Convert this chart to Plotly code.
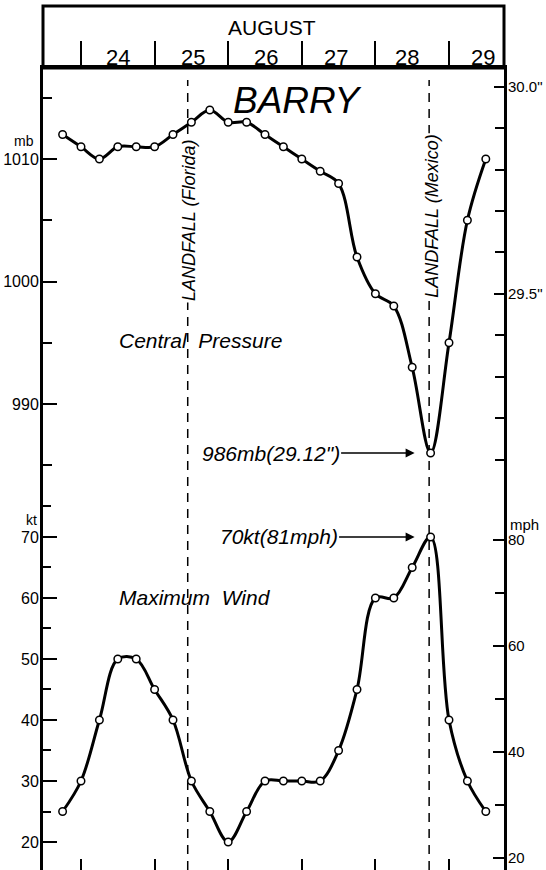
import plotly.graph_objects as go

# ---------------- data ----------------
times = [23.75, 24.0, 24.25, 24.5, 24.75, 25.0, 25.25, 25.5, 25.75, 26.0, 26.25, 26.5,
         26.75, 27.0, 27.25, 27.5, 27.75, 28.0, 28.25, 28.5, 28.75, 29.0, 29.25, 29.5]
pressure_mb = [1012, 1011, 1010, 1011, 1011, 1011, 1012, 1013, 1014, 1013, 1013, 1012,
               1011, 1010, 1009, 1008, 1002, 999, 998, 993, 986, 995, 1005, 1010]
wind_kt = [25, 30, 40, 50, 50, 45, 40, 30, 25, 20, 25, 30,
           30, 30, 30, 35, 45, 60, 60, 65, 70, 40, 30, 25]
days = [24, 25, 26, 27, 28, 29]
day_labels = ["24", "25", "26", "27", "28", "29"]
day_label_pos = [24.5, 25.52, 26.51, 27.47, 28.43, 29.46]
landfall_times = [25.45, 28.73]
landfall_labels = ["LANDFALL (Florida)", "LANDFALL (Mexico)"]

MB_PER_INHG = 33.8639
MPH_PER_KT = 1.15078

pressure_in = [p / MB_PER_INHG for p in pressure_mb]
wind_mph = [w * MPH_PER_KT for w in wind_kt]

# ---------------- geometry ----------------
W, H = 546, 870
ML, MR, MT, MB = 43, 42, 68, 0
PH = H - MT - MB
PW = W - ML - MR
split_px = 485
d = (H - MB - split_px) / PH

x_range = [23.4837, 29.7473]
p_range = [983.39, 1017.43]
kt_range = [15.41, 78.52]
in_range = [p / MB_PER_INHG for p in p_range]
mph_range = [k * MPH_PER_KT for k in kt_range]

FONT = "Liberation Sans, Arial, sans-serif"

fig = go.Figure()

line_style = dict(color="black", width=3, shape="spline", smoothing=1.0)
marker_style = dict(symbol="circle", size=7.5, color="white",
                    line=dict(color="black", width=1.5))

fig.add_trace(go.Scatter(x=times, y=pressure_mb, mode="lines+markers",
                         line=line_style, marker=marker_style,
                         xaxis="x", yaxis="y", hoverinfo="skip", showlegend=False))
fig.add_trace(go.Scatter(x=times, y=wind_kt, mode="lines+markers",
                         line=line_style, marker=marker_style,
                         xaxis="x", yaxis="y3", hoverinfo="skip", showlegend=False))
# secondary-unit axes (invisible traces keep them alive)
fig.add_trace(go.Scatter(x=times, y=pressure_in, mode="lines", opacity=0,
                         xaxis="x2", yaxis="y2", hoverinfo="skip", showlegend=False))
fig.add_trace(go.Scatter(x=times, y=wind_mph, mode="lines", opacity=0,
                         xaxis="x", yaxis="y4", hoverinfo="skip", showlegend=False))

common_y = dict(showgrid=False, zeroline=False, showline=True, linecolor="black",
                linewidth=3, ticks="inside", tickcolor="black", tickwidth=2,
                automargin=False)
left_font = dict(family=FONT, size=16, color="black")
right_font = dict(family=FONT, size=15, color="black")

fig.update_layout(
    width=W, height=H,
    margin=dict(l=ML, r=MR, t=MT, b=MB, pad=0, autoexpand=False),
    paper_bgcolor="white", plot_bgcolor="white",
    showlegend=False,
    xaxis=dict(domain=[0, 1], range=x_range, anchor="y3", showgrid=False,
               zeroline=False, showline=False, ticks="inside", tickvals=days,
               ticklen=11, tickwidth=2, tickcolor="black", showticklabels=False,
               automargin=False),
    xaxis2=dict(overlaying="x", side="top", anchor="y", range=x_range,
                showgrid=False, zeroline=False, showline=True, linecolor="black",
                linewidth=3, ticks="outside", tickvals=days, ticklen=24,
                tickwidth=2, tickcolor="black", showticklabels=False,
                automargin=False),
    yaxis=dict(domain=[d, 1], range=p_range, anchor="x", side="left",
               dtick=10, tick0=0, ticklen=14, tickfont=left_font, ticklabelstandoff=-2,
               minor=dict(ticks="inside", dtick=5, tick0=0, ticklen=9,
                          tickwidth=2, tickcolor="black"),
               **common_y),
    yaxis2=dict(overlaying="y", range=in_range, anchor="x2", side="right",
                dtick=0.5, tick0=0, tickformat=".1f", ticksuffix='"', ticklen=10,
                tickfont=right_font, ticklabelstandoff=-2,
                minor=dict(ticks="inside", dtick=0.1, tick0=0, ticklen=9,
                           tickwidth=2, tickcolor="black"),
                **common_y),
    yaxis3=dict(domain=[0, d], range=kt_range, anchor="x", side="left",
                dtick=10, tick0=0, ticklen=14, tickfont=left_font, ticklabelstandoff=-2,
                minor=dict(ticks="inside", dtick=5, tick0=0, ticklen=8,
                           tickwidth=2, tickcolor="black"),
                **common_y),
    yaxis4=dict(overlaying="y3", range=mph_range, anchor="x", side="right",
                dtick=20, tick0=0, ticklen=11, tickfont=right_font, ticklabelstandoff=-2,
                minor=dict(ticks="inside", tickvals=[30, 50, 70], ticklen=9,
                           tickwidth=2, tickcolor="black"),
                **common_y),
)

# header box
hdr_top = 1 + (MT - 6) / PH
fig.add_shape(type="rect", xref="paper", yref="paper", x0=0, x1=1, y0=1, y1=hdr_top,
              line=dict(color="black", width=3), fillcolor="rgba(0,0,0,0)")

# landfall dashed lines
for t in landfall_times:
    fig.add_shape(type="line", xref="x", yref="paper", x0=t, x1=t,
                  y0=0, y1=(H - MB - 80) / PH, layer="below",
                  line=dict(color="black", width=1.5, dash="9px,7px"))

C = dict(xanchor="center", yanchor="middle")
ann = []
ann.append(dict(text="AUGUST", xref="paper", yref="paper",
                x=(272 - ML) / PW, y=1 + (MT - 27) / PH, **C,
                showarrow=False, font=dict(family=FONT, size=21, color="black")))
for lab, pos in zip(day_labels, day_label_pos):
    ann.append(dict(text=lab, xref="x", yref="paper", x=pos, y=1 + (MT - 57) / PH, **C,
                    showarrow=False, font=dict(family=FONT, size=22, color="black")))
ann.append(dict(text="<i>BARRY</i>", xref="x", yref="y", x=26.93, y=1014.8, **C,
                showarrow=False, font=dict(family=FONT, size=37, color="black")))
ann.append(dict(text="<i>Central  Pressure</i>", xref="x", yref="y", x=24.49, y=995.2,
                xanchor="left", yanchor="middle", showarrow=False,
                font=dict(family=FONT, size=21, color="black")))
ann.append(dict(text="<i>Maximum  Wind</i>", xref="x", yref="y3", x=24.49, y=60,
                xanchor="left", yanchor="middle", showarrow=False,
                font=dict(family=FONT, size=21, color="black")))
for t, lab, yy in zip(landfall_times, landfall_labels, [1005.0, 1005.3]):
    ann.append(dict(text="<i>" + lab + "</i>", xref="x", yref="y", x=t, y=yy, **C,
                    xshift=2, textangle=-90, showarrow=False, bgcolor="white",
                    borderpad=1, font=dict(family=FONT, size=18, color="black")))

i_min = pressure_mb.index(min(pressure_mb))
i_max = wind_kt.index(max(wind_kt))
ann.append(dict(text='<i>%dmb(%.2f")</i>' % (pressure_mb[i_min], pressure_in[i_min]),
                xref="x", yref="y", x=times[i_min], y=pressure_mb[i_min],
                ax=-160, ay=0, axref="pixel", ayref="pixel", showarrow=True,
                arrowhead=2, arrowsize=1.2, arrowwidth=1.5, arrowcolor="black",
                standoff=16, font=dict(family=FONT, size=21, color="black")))
ann.append(dict(text="<i>%dkt(%dmph)</i>" % (wind_kt[i_max], round(wind_mph[i_max])),
                xref="x", yref="y3", x=times[i_max], y=wind_kt[i_max],
                ax=-152, ay=0, axref="pixel", ayref="pixel", showarrow=True,
                arrowhead=2, arrowsize=1.2, arrowwidth=1.5, arrowcolor="black",
                standoff=16, font=dict(family=FONT, size=21, color="black")))
ann.append(dict(text="mb", xref="paper", yref="y", x=(24 - ML) / PW, y=1011.5, **C,
                showarrow=False, font=dict(family=FONT, size=14, color="black")))
ann.append(dict(text="kt", xref="paper", yref="y3", x=(31 - ML) / PW, y=72.8, **C,
                showarrow=False, font=dict(family=FONT, size=14, color="black")))
ann.append(dict(text="mph", xref="paper", yref="y4", x=(524 - ML) / PW, y=83, **C,
                showarrow=False, font=dict(family=FONT, size=15, color="black")))
fig.update_layout(annotations=ann)

fig.write_html("out.html",
               config={"displayModeBar": False},
               post_script="document.body.style.margin='0px';"
                           "document.body.style.padding='0px';"
                           "document.documentElement.style.overflow='hidden';")
